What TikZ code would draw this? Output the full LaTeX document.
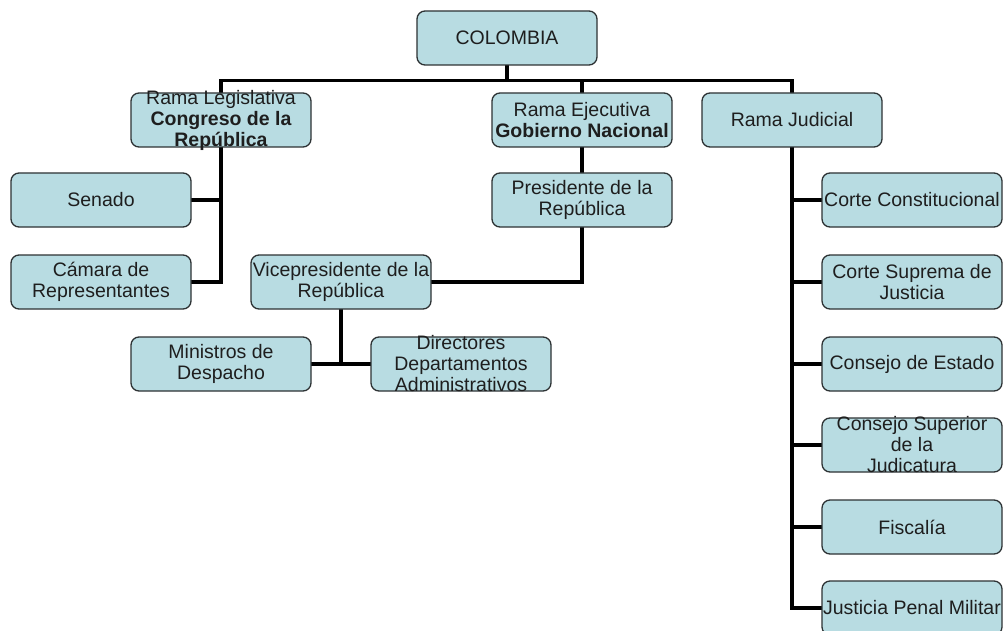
\documentclass[tikz,border=0pt]{standalone}
\usepackage{fontspec}
\setmainfont{Liberation Sans}
\usetikzlibrary{backgrounds}
\definecolor{boxfill}{RGB}{184,220,226}
\definecolor{boxline}{RGB}{45,50,52}
\definecolor{textc}{RGB}{30,30,30}
\tikzset{
  box/.style={draw=boxline, line width=1.3pt, fill=boxfill, rounded corners=8pt,
    minimum width=180pt, minimum height=54pt, inner sep=0pt},
  txt/.style={font=\fontsize{19.5}{21}\selectfont, align=center, text=textc, inner sep=0pt},
  conn/.style={line width=3.2pt, draw=black, line cap=rect},
}
\begin{document}
\begin{tikzpicture}[x=1pt,y=-1pt]
\useasboundingbox (0,0) rectangle (1003,631);
% level 0
\node[box, label={[txt]center:{COLOMBIA}}] (col) at (507,38) {};
% branches
\node[box, label={[txt]center:{Rama Legislativa\\\textbf{Congreso de la}\\\textbf{República}}}] (leg) at (221,120) {};
\node[box, label={[txt]center:{Rama Ejecutiva\\\textbf{Gobierno Nacional}}}] (eje) at (582,120) {};
\node[box, label={[txt]center:{Rama Judicial}}] (jud) at (792,120) {};
% legislative
\node[box, label={[txt]center:{Senado}}] (sen) at (101,200) {};
\node[box, label={[txt]center:{Cámara de\\Representantes}}] (cam) at (101,282) {};
% executive
\node[box, label={[txt]center:{Presidente de la\\República}}] (pres) at (582,200) {};
\node[box, label={[txt]center:{Vicepresidente de la\\República}}] (vice) at (341,282) {};
\node[box, label={[txt]center:{Ministros de\\Despacho}}] (min) at (221,364) {};
\node[box, label={[txt]center:{Directores\\Departamentos\\Administrativos}}] (dir) at (461,364) {};
% judicial
\node[box, label={[txt]center:{Corte Constitucional}}] (cc) at (912,200) {};
\node[box, label={[txt]center:{Corte Suprema de\\Justicia}}] (csj) at (912,282) {};
\node[box, label={[txt]center:{Consejo de Estado}}] (ce) at (912,364) {};
\node[box, label={[txt]center:{Consejo Superior\\de la\\Judicatura}}] (csu) at (912,445) {};
\node[box, label={[txt]center:{Fiscalía}}] (fis) at (912,527) {};
\node[box, label={[txt]center:{Justicia Penal Militar}}] (jpm) at (912,608) {};
\begin{scope}[on background layer]
\fill[white] (0,0) rectangle (1003,631);
\draw[conn] (col.south) -- ++(0,15) coordinate (cb);
\draw[conn] (leg.north |- cb) -- (jud.north |- cb);
\draw[conn] (leg.north |- cb) -- (leg.north);
\draw[conn] (eje.north |- cb) -- (eje.north);
\draw[conn] (jud.north |- cb) -- (jud.north);
% legislative
\draw[conn] (leg.south) -- (leg.south |- cam.east);
\draw[conn] (sen.east) -- (sen.east -| leg.south);
\draw[conn] (cam.east) -- (cam.east -| leg.south);
% executive
\draw[conn] (eje.south) -- (pres.north);
\draw[conn] (pres.south) |- (vice.east);
\draw[conn] (vice.south) -- (vice.south |- min.east);
\draw[conn] (min.east) -- (dir.west);
% judicial
\draw[conn] (jud.south) -- (jud.south |- jpm.west);
\foreach \c in {cc,csj,ce,csu,fis,jpm}
  \draw[conn] (\c.west) -- (\c.west -| jud.south);
\end{scope}
\end{tikzpicture}
\end{document}
